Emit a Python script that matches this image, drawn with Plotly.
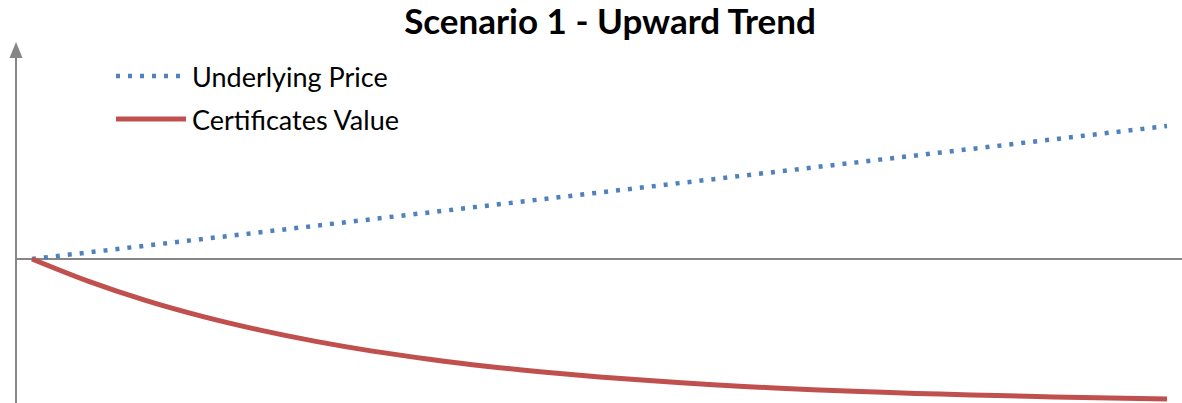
import plotly.graph_objects as go

# ---- data ----
periods = list(range(21))
underlying_price = [0, 6.65, 13.3, 19.95, 26.6, 33.25, 39.9, 46.55, 53.2, 59.85, 66.5,
                    73.15, 79.8, 86.45, 93.1, 99.75, 106.4, 113.05, 119.7, 126.35, 133]
certificates_value = [0, -22.4, -41.4, -57.4, -70.9, -82.4, -92.1, -100.2, -107.2, -113.0,
                      -118.0, -122.1, -125.7, -128.7, -131.2, -133.3, -135.1, -136.6,
                      -137.9, -139.0, -140.0]
series_names = ["Underlying Price", "Certificates Value"]
title_text = "Scenario 1 - Upward Trend"

W, H = 1182, 403
BLUE = "#4F81BD"
RED = "#C0504D"
GRAY = "#868686"
FONT = "Lato, Carlito, Calibri, sans-serif"

fig = go.Figure()
fig.add_trace(go.Scatter(x=periods, y=underlying_price, mode="lines",
                         line=dict(color=BLUE, width=4.5, dash="4px,8px"),
                         name=series_names[0], showlegend=False, hoverinfo="skip"))
fig.add_trace(go.Scatter(x=periods, y=certificates_value, mode="lines",
                         line=dict(color=RED, width=5, shape="spline"),
                         name=series_names[1], showlegend=False, hoverinfo="skip"))

def px(x):
    return x / W

def py(y):
    return 1 - y / H

shapes = [
    dict(type="line", xref="paper", yref="paper", x0=px(16), x1=px(16), y0=0, y1=py(56),
         line=dict(color=GRAY, width=2)),
    dict(type="path", xref="paper", yref="paper",
         path=f"M {px(16)},{py(42)} L {px(9.5)},{py(58)} L {px(22.5)},{py(58)} Z",
         fillcolor=GRAY, line=dict(color=GRAY, width=0)),
    dict(type="line", xref="paper", yref="y", x0=px(16), x1=1, y0=0, y1=0,
         line=dict(color=GRAY, width=2), layer="below"),
    dict(type="line", xref="paper", yref="paper", x0=px(116), x1=px(186), y0=py(76), y1=py(76),
         line=dict(color=BLUE, width=4.5, dash="4px,8px")),
    dict(type="line", xref="paper", yref="paper", x0=px(116), x1=px(186), y0=py(119), y1=py(119),
         line=dict(color=RED, width=5)),
]

annotations = [
    dict(text=series_names[0], xref="paper", yref="paper", x=px(190), y=py(76),
         xanchor="left", yanchor="middle", showarrow=False,
         font=dict(family=FONT, size=27, color="#000000")),
    dict(text=series_names[1], xref="paper", yref="paper", x=px(190), y=py(119),
         xanchor="left", yanchor="middle", showarrow=False,
         font=dict(family=FONT, size=27, color="#000000")),
]

x_step = 56.75
fig.update_layout(
    width=W, height=H,
    margin=dict(l=0, r=0, t=0, b=0),
    paper_bgcolor="white", plot_bgcolor="white",
    title=dict(text="<b>" + title_text + "</b>", x=px(610), xref="paper", xanchor="center",
               y=py(22), yref="container", yanchor="middle",
               font=dict(family=FONT, size=35, color="#000000")),
    xaxis=dict(range=[-32 / x_step, (W - 32) / x_step], visible=False, showgrid=False, zeroline=False),
    yaxis=dict(range=[-(H - 259), 259], visible=False, showgrid=False, zeroline=False),
    shapes=shapes,
    annotations=annotations,
    showlegend=False,
)

fig.write_html("out.html", config={"displayModeBar": False},
               post_script="document.body.style.margin='0';document.body.style.padding='0';")
